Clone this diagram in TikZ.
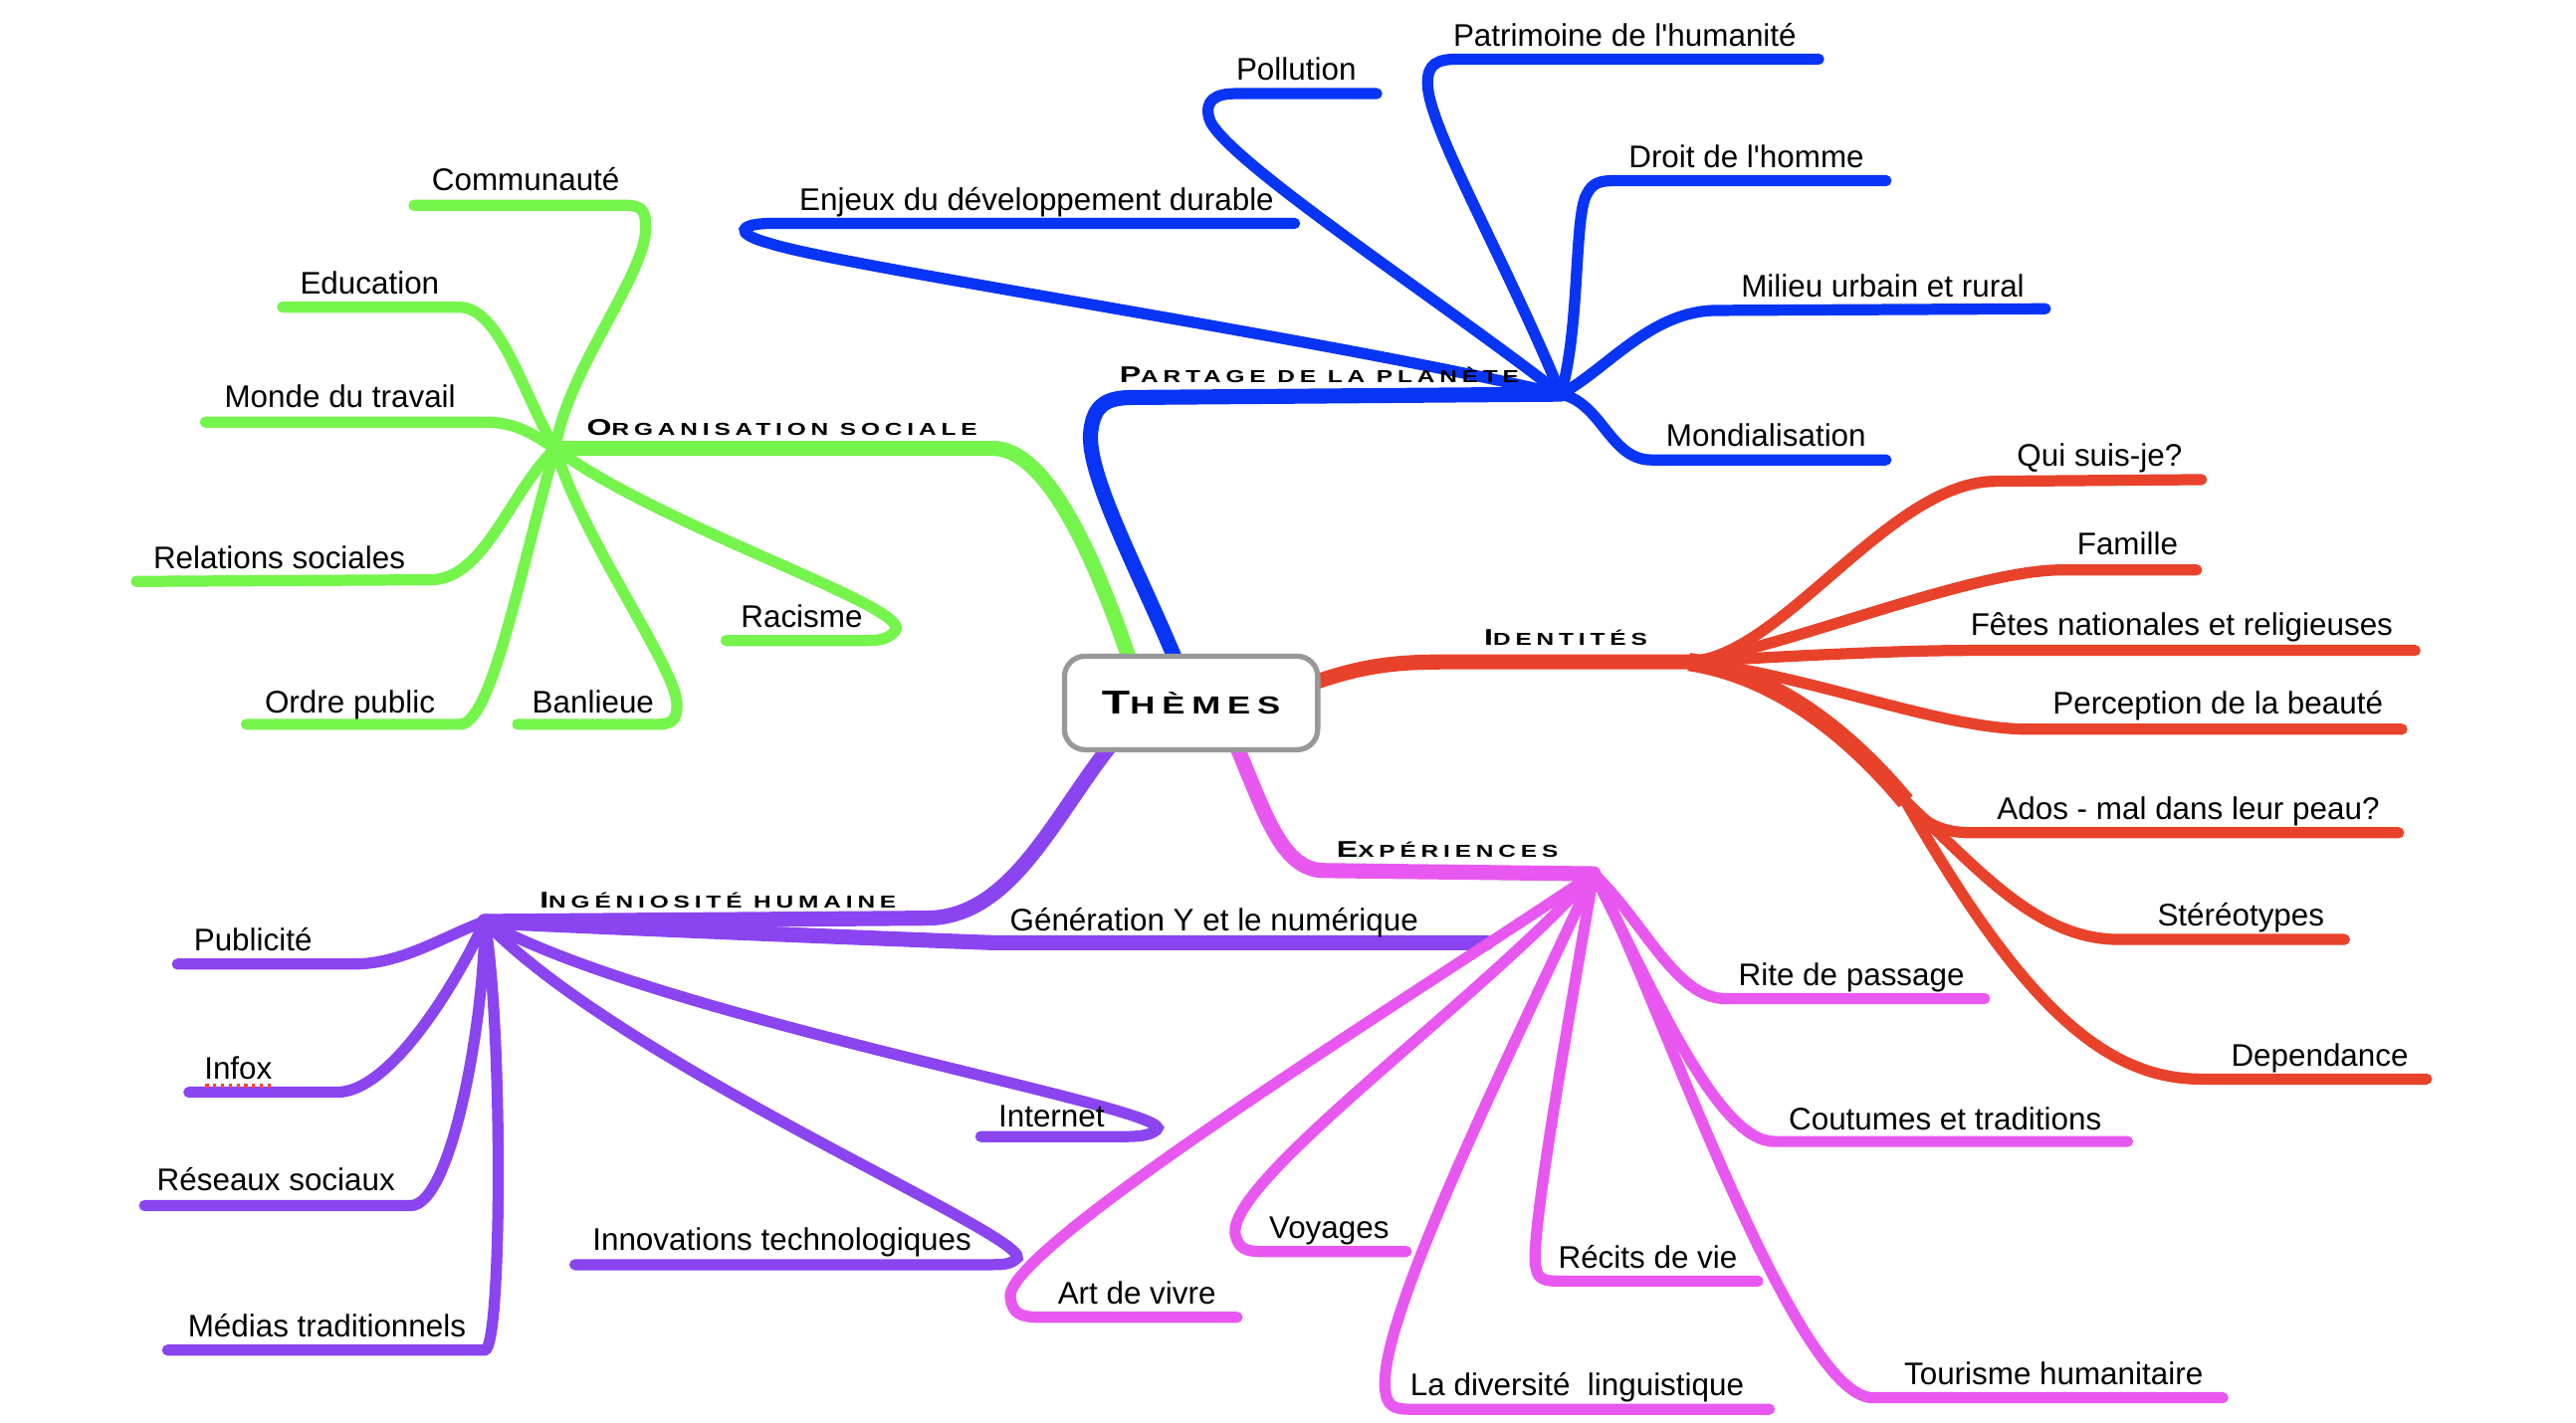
\documentclass[tikz,border=0pt]{standalone}
\usepackage{fontspec}
\setmainfont{Liberation Sans}
\newfontfamily\catfont{Liberation Sans}[FakeStretch=1.4,LetterSpace=28]
\usetikzlibrary{calc,backgrounds}
\definecolor{blueP}{RGB}{8,52,245}
\definecolor{greenO}{RGB}{117,244,76}
\definecolor{redI}{RGB}{232,66,42}
\definecolor{violetH}{RGB}{138,68,240}
\definecolor{pinkE}{RGB}{232,88,240}
\definecolor{grayT}{RGB}{152,152,152}
\newcommand\capsc[4]{{\fontsize{#3}{#3}\selectfont #1}{\fontsize{#4}{#4}\selectfont #2}}
\begin{document}
\begin{tikzpicture}[x=0.72pt,y=-0.72pt,
    branch/.style={line width=6.6pt,line cap=round},
    twig/.style={line width=4.9pt,line cap=round},
    leaf/.style={anchor=base,inner sep=0pt,font=\fontsize{13.7}{16}\selectfont},
    cat/.style={anchor=base,inner sep=0pt,font=\catfont\bfseries}]
\useasboundingbox (0,0) rectangle (1568,866);

\node[draw=grayT,line width=2.3pt,rounded corners=9pt,fill=white,
      minimum width=111pt,minimum height=41pt] (th) at (725,428)
      {\catfont\bfseries\capsc{T}{HÈMES}{14.5}{10.8}};

\coordinate (hB) at (950,240);
\coordinate (hG) at (338,273);
\coordinate (hR) at (1028,403);
\coordinate (hT) at (1160,488);
\coordinate (hP) at (295,561);
\coordinate (hM) at (970,532);

\begin{scope}[on background layer]
\fill[white] (0,0) rectangle (1568,866);
\draw[branch,blueP] ($(th.north)+(-3,20)$) .. controls (700,360) and (660,290) .. (664,262) .. controls (666,246) and (674,242) .. (690,242) -- (hB);
\draw[twig,blueP] (hB) .. controls (800,205) and (510,162) .. (468,148) .. controls (446,142) and (450,136) .. (470,136) -- (788,136);
\draw[twig,blueP] (hB) .. controls (880,185) and (742,95) .. (736,72) .. controls (733,61) and (740,57) .. (752,57) -- (838,57);
\draw[twig,blueP] (hB) .. controls (915,155) and (868,75) .. (869,50) .. controls (869,39) and (875,36) .. (887,36) -- (1107,36);
\draw[twig,blueP] (hB) .. controls (962,200) and (958,130) .. (966,118) .. controls (969,112) and (973,110) .. (982,110) -- (1148,110);
\draw[twig,blueP] (hB) .. controls (978,225) and (1005,189) .. (1045,189) -- (1245,188);
\draw[twig,blueP] (hB) .. controls (975,245) and (980,280) .. (1005,280) -- (1148,280);

\draw[branch,greenO] ($(th.north)+(-37,5)$) .. controls (670,350) and (640,274) .. (605,273) -- (hG);
\draw[twig,greenO] (hG) .. controls (345,225) and (395,165) .. (393,137) .. controls (393,128) and (390,125) .. (381,125) -- (252,125);
\draw[twig,greenO] (hG) .. controls (318,240) and (305,188) .. (280,187) -- (172,187);
\draw[twig,greenO] (hG) .. controls (325,265) and (315,257) .. (295,257) -- (125,257);
\draw[twig,greenO] (hG) .. controls (310,300) and (295,353) .. (262,353) -- (83,354);
\draw[twig,greenO] (hG) .. controls (318,340) and (300,441) .. (280,441) -- (150,441);
\draw[twig,greenO] (hG) .. controls (355,330) and (414,410) .. (412,430) .. controls (412,439) and (408,441) .. (400,441) -- (315,441);
\draw[twig,greenO] (hG) .. controls (400,320) and (556,370) .. (545,384) .. controls (540,390) and (534,390) .. (524,390) -- (442,390);

\draw[branch,redI] ($(th.east)+(-5,-12)$) .. controls (830,405) and (850,403) .. (880,403) -- (hR);
\draw[twig,redI] (hR) .. controls (1085,400) and (1150,293) .. (1215,293) -- (1340,292);
\draw[twig,redI] (hR) .. controls (1085,395) and (1200,347) .. (1255,347) -- (1337,347);
\draw[twig,redI] (hR) .. controls (1080,400) and (1150,396) .. (1200,396) -- (1470,396);
\draw[twig,redI] (hR) .. controls (1100,410) and (1180,444) .. (1235,444) -- (1462,444);
\draw[line width=8pt,redI] (hR) .. controls (1075,410) and (1120,440) .. (hT);
\draw[twig,redI] (hT) .. controls (1170,500) and (1180,507) .. (1200,507) -- (1460,507);
\draw[twig,redI] (hT) .. controls (1205,530) and (1240,572) .. (1290,572) -- (1427,572);
\draw[twig,redI] (hT) .. controls (1230,610) and (1280,657) .. (1340,657) -- (1477,657);

\draw[branch,violetH] ($(th.south)+(-50,-3)$) .. controls (640,500) and (615,558) .. (565,559) -- (hP);
\draw[branch,violetH] (hP) .. controls (400,566) and (550,572) .. (605,574) -- (905,574);
\draw[twig,violetH] (hP) .. controls (270,570) and (245,587) .. (215,587) -- (108,587);
\draw[twig,violetH] (hP) .. controls (282,590) and (240,665) .. (205,665) -- (115,665);
\draw[twig,violetH] (hP) .. controls (295,620) and (275,734) .. (250,734) -- (88,734);
\draw[twig,violetH] (hP) .. controls (306,620) and (306,822) .. (295,822) -- (102,822);
\draw[twig,violetH] (hP) .. controls (380,650) and (640,758) .. (618,767) .. controls (614,770) and (610,770) .. (600,770) -- (350,770);
\draw[twig,violetH] (hP) .. controls (400,620) and (722,676) .. (704,688) .. controls (700,691) and (695,692) .. (685,692) -- (597,692);

\draw[branch,pinkE] ($(th.south)+(28,-3)$) .. controls (770,495) and (780,529) .. (805,530) -- (hM);
\draw[twig,pinkE] (hM) .. controls (1000,560) and (1020,608) .. (1050,608) -- (1208,608);
\draw[twig,pinkE] (hM) .. controls (1005,600) and (1045,695) .. (1080,695) -- (1295,695);
\draw[twig,pinkE] (hM) .. controls (1000,580) and (1090,851) .. (1140,851) -- (1353,851);
\draw[twig,pinkE] (hM) .. controls (955,620) and (930,760) .. (935,772) .. controls (936,779) and (940,780) .. (950,780) -- (1070,780);
\draw[twig,pinkE] (hM) .. controls (920,640) and (840,800) .. (843,845) .. controls (844,856) and (848,858) .. (858,858) -- (1077,858);
\draw[twig,pinkE] (hM) .. controls (900,610) and (745,720) .. (752,752) .. controls (754,760) and (758,762) .. (768,762) -- (856,762);
\draw[twig,pinkE] (hM) .. controls (870,600) and (610,760) .. (615,790) .. controls (616,800) and (622,802) .. (632,802) -- (753,802);
\end{scope}

\node[cat] (partage) at (803,233) {\capsc{P}{ARTAGE DE LA PLANÈTE}{10}{7.6}};
\node[cat] (organisation) at (476,265) {\capsc{O}{RGANISATION SOCIALE}{10}{7.6}};
\node[cat] (identites) at (953,393) {\capsc{I}{DENTITÉS}{10}{7.6}};
\node[cat] (ingeniosite) at (437,553) {\capsc{I}{NGÉNIOSITÉ HUMAINE}{10}{7.6}};
\node[cat] (experiences) at (881,522) {\capsc{E}{XPÉRIENCES}{10}{7.6}};

\node[leaf] (enjeux) at (631,128) {Enjeux du développement durable};
\node[leaf] (pollution) at (789,49) {Pollution};
\node[leaf] (patrimoine) at (989,28) {Patrimoine de l\textquotesingle humanité};
\node[leaf] (droit) at (1063,102) {Droit de l\textquotesingle homme};
\node[leaf] (milieu) at (1146,181) {Milieu urbain et rural};
\node[leaf] (mondial) at (1075,272) {Mondialisation};

\node[leaf] (communaute) at (320,116) {Communauté};
\node[leaf] (education) at (225,179) {Education};
\node[leaf] (monde) at (207,248) {Monde du travail};
\node[leaf] (relations) at (170,346) {Relations sociales};
\node[leaf] (racisme) at (488,382) {Racisme};
\node[leaf] (ordre) at (213,434) {Ordre public};
\node[leaf] (banlieue) at (361,434) {Banlieue};

\node[leaf] (qui) at (1278,284) {Qui suis-je?};
\node[leaf] (famille) at (1295,338) {Famille};
\node[leaf] (fetes) at (1328,387) {Fêtes nationales et religieuses};
\node[leaf] (beaute) at (1350,435) {Perception de la beauté};
\node[leaf] (ados) at (1332,499) {Ados - mal dans leur peau?};
\node[leaf] (stereo) at (1364,564) {Stéréotypes};
\node[leaf] (dependance) at (1412,649) {Dependance};

\node[leaf] (pub) at (154,579) {Publicité};
\node[leaf] (infox) at (145,657) {Infox};
\node[leaf] (reseaux) at (168,725) {Réseaux sociaux};
\node[leaf] (medias) at (199,814) {Médias traditionnels};
\node[leaf] (innov) at (476,761) {Innovations technologiques};
\node[leaf] (internet) at (640,686) {Internet};
\node[leaf] (geny) at (739,567) {Génération Y et le numérique};
\draw[red!75,dotted,line width=1.4pt] ($(infox.base west)+(1,4)$) -- ($(infox.base east)+(0,4)$);

\node[leaf] (rite) at (1127,600) {Rite de passage};
\node[leaf] (coutumes) at (1184,688) {Coutumes et traditions};
\node[leaf] (tourisme) at (1250,843) {Tourisme humanitaire};
\node[leaf] (recits) at (1003,772) {Récits de vie};
\node[leaf] (diversite) at (960,850) {La diversité\ \ linguistique};
\node[leaf] (voyages) at (809,754) {Voyages};
\node[leaf] (art) at (692,794) {Art de vivre};
\end{tikzpicture}
\end{document}
